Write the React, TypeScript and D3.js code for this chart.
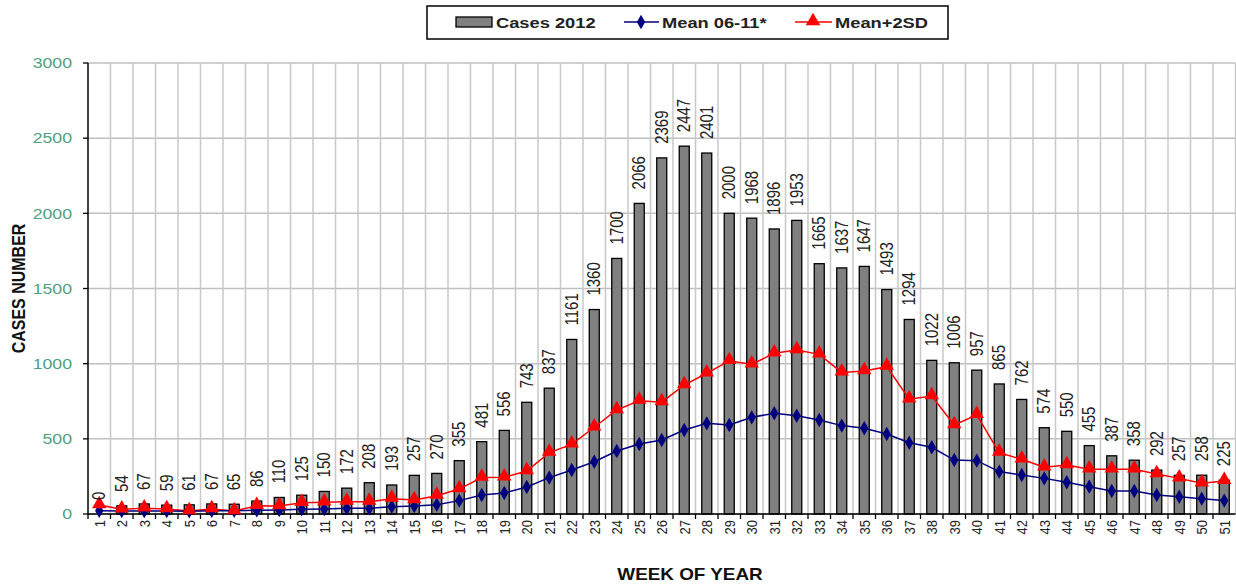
import React from 'react';
import { scaleBand, scaleLinear, line, symbol, symbolDiamond, symbolTriangle, range } from 'd3';

const weeks = range(1, 52).map(String);
const cases2012 = [0, 54, 67, 59, 61, 67, 65, 86, 110, 125, 150, 172, 208, 193, 257, 270, 355, 481, 556, 743,
  837, 1161, 1360, 1700, 2066, 2369, 2447, 2401, 2000, 1968, 1896, 1953, 1665, 1637, 1647, 1493, 1294, 1022,
  1006, 957, 865, 762, 574, 550, 455, 387, 358, 292, 257, 258, 225];
const mean0611 = [22, 20, 20, 20, 18, 22, 22, 25, 27, 31, 33, 38, 38, 49, 53, 62, 89, 126, 140, 180,
  242, 293, 348, 419, 466, 492, 559, 603, 592, 643, 670, 654, 625, 588, 570, 532, 474, 444,
  359, 355, 282, 259, 237, 211, 182, 153, 153, 126, 115, 102, 89];
const mean2sd = [60, 31, 38, 33, 20, 33, 20, 55, 53, 75, 78, 82, 82, 102, 93, 122, 166, 242, 244, 286,
  408, 463, 577, 692, 754, 744, 858, 936, 1018, 996, 1069, 1091, 1062, 942, 951, 980, 763, 785,
  592, 659, 408, 364, 311, 326, 297, 297, 297, 266, 237, 204, 220];
const yTicks = [0, 500, 1000, 1500, 2000, 2500, 3000];

const font = '"Liberation Sans", Arial, sans-serif';
// the original picture is stretched a little horizontally
const sx = 1.18;

export default function App() {
  const width = 1236, height = 585;
  const margin = { top: 63, left: 88, bottom: 71 };
  const plotRight = 88 + 51 * 22.5;

  const x = scaleBand().domain(weeks).range([margin.left, plotRight]);
  const y = scaleLinear().domain([0, 3000]).range([height - margin.bottom, margin.top]);
  const bw = 10;
  const cx = (i: number) => (x(weeks[i]) as number) + x.bandwidth() / 2;

  const meanLine = line<number>().x((d, i) => cx(i)).y(d => y(d));
  const diamond = symbol().type(symbolDiamond).size(60)() as string;
  const triangle = symbol().type(symbolTriangle).size(90)() as string;

  const y0 = y(0);

  return (
    <div style={{ position: 'fixed', left: 0, top: 0 }}>
      <svg width={width} height={height} style={{ display: 'block', background: '#fff', fontFamily: font }}>
        {/* horizontal grid */}
        {yTicks.map(t => (
          <line key={'h' + t} x1={margin.left} x2={plotRight} y1={y(t)} y2={y(t)} stroke="#c0c0c0" strokeWidth={1.5} />
        ))}
        {/* vertical grid at category boundaries */}
        {weeks.map(w => (
          <line key={'v' + w} x1={(x(w) as number) + x.bandwidth()} x2={(x(w) as number) + x.bandwidth()}
            y1={margin.top} y2={y0} stroke="#c8c8c8" strokeWidth={1.5} />
        ))}

        {/* bars */}
        {cases2012.map((v, i) => v > 0 && (
          <rect key={'b' + i} x={cx(i) - bw / 2} y={y(v)} width={bw} height={y0 - y(v)}
            fill="#808080" stroke="#000" strokeWidth={1.3} />
        ))}

        {/* axes */}
        <line x1={margin.left} x2={margin.left} y1={margin.top} y2={y0} stroke="#000" strokeWidth={1.5} />
        <line x1={margin.left} x2={plotRight} y1={y0} y2={y0} stroke="#000" strokeWidth={1.5} />
        {yTicks.map(t => (
          <g key={'yt' + t}>
            <line x1={margin.left - 5} x2={margin.left} y1={y(t)} y2={y(t)} stroke="#000" strokeWidth={1.3} />
            <text transform={`translate(72,${y(t)}) scale(${sx},1)`} dy="0.35em" textAnchor="end" fontSize={15} fill="#4f9f84">{t}</text>
          </g>
        ))}
        {weeks.map(w => (
          <line key={'xt' + w} x1={(x(w) as number)} x2={(x(w) as number)} y1={y0} y2={y0 + 5} stroke="#000" strokeWidth={1.3} />
        ))}
        {weeks.map((w, i) => (
          <text key={'xl' + w} transform={`translate(${cx(i)},${y0 + 6}) scale(${sx},1) rotate(-90)`} dy="0.35em"
            textAnchor="end" fontSize={13} fill="#222">{w}</text>
        ))}

        {/* lines */}
        <path d={meanLine(mean2sd) as string} fill="none" stroke="#ff0000" strokeWidth={1.5} />
        <path d={meanLine(mean0611) as string} fill="none" stroke="#000080" strokeWidth={1.5} />
        {mean0611.map((v, i) => (
          <path key={'d' + i} d={diamond} transform={`translate(${cx(i)},${y(v)})`} fill="#000080" />
        ))}
        {mean2sd.map((v, i) => (
          <path key={'t' + i} d={triangle} transform={`translate(${cx(i)},${y(v) - 1})`} fill="#ff0000" />
        ))}

        {/* value labels */}
        {cases2012.map((v, i) => (
          <text key={'l' + i} transform={`translate(${cx(i)},${y(v) - 14}) scale(${sx},1) rotate(-90)`} dy="0.35em"
            fontSize={15} fill="#222">{v}</text>
        ))}

        {/* axis titles */}
        <text transform={`translate(18,${(margin.top + y0) / 2}) scale(${sx},1) rotate(-90)`} dy="0.35em" textAnchor="middle"
          fontSize={16} fontWeight="bold" fill="#111">CASES NUMBER</text>
        <text transform={`translate(690,580) scale(${sx},1)`} textAnchor="middle" fontSize={16} fontWeight="bold" fill="#111">WEEK OF YEAR</text>

        {/* legend */}
        <rect x={427} y={6} width={521} height={33} fill="#fff" stroke="#000" strokeWidth={1.5} />
        <rect x={456} y={17} width={36} height={10} fill="#808080" stroke="#000" strokeWidth={1.3} />
        <text transform={`translate(496,28) scale(${sx},1)`} fontSize={15.5} fontWeight="bold" fill="#222">Cases 2012</text>
        <line x1={624} x2={659} y1={22} y2={22} stroke="#000080" strokeWidth={1.5} />
        <path d={diamond} transform="translate(641,22)" fill="#000080" />
        <text transform={`translate(662,28) scale(${sx},1)`} fontSize={15.5} fontWeight="bold" fill="#222">Mean 06-11*</text>
        <line x1={795} x2={832} y1={22} y2={22} stroke="#ff0000" strokeWidth={1.5} />
        <path d={triangle} transform="translate(813,21)" fill="#ff0000" />
        <text transform={`translate(835,28) scale(${sx},1)`} fontSize={15.5} fontWeight="bold" fill="#222">Mean+2SD</text>
      </svg>
    </div>
  );
}
